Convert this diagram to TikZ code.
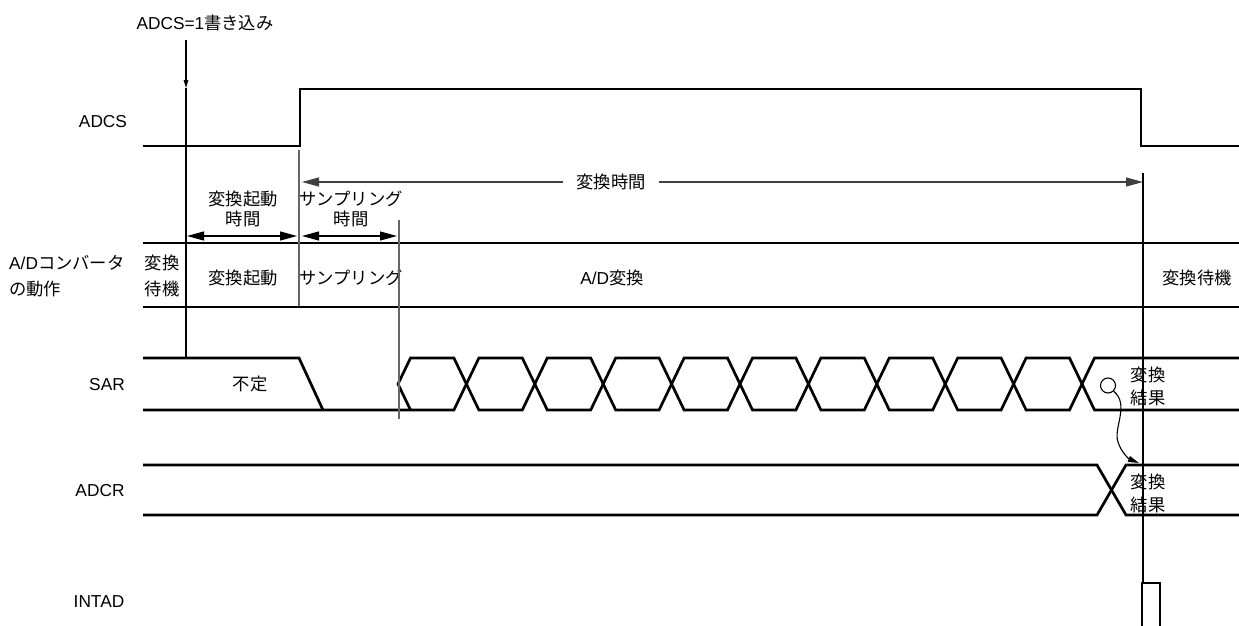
\documentclass[tikz,border=0pt]{standalone}
\usepackage{fontspec}
\setmainfont{Liberation Sans}
\newfontfamily\cjk{Noto Sans CJK JP}
\newcommand{\jtxt}[1]{{\cjk #1}}
\usetikzlibrary{arrows.meta}
\begin{document}
\begin{tikzpicture}[x=1pt,y=-1pt,
  sig/.style={line width=2.7pt, line join=miter, line cap=butt},
  thinline/.style={line width=1.1pt, draw=black},
  guide/.style={line width=1.2pt, draw=black!60},
  bigtip/.tip={Triangle[length=17pt,width=9pt]},
  lbl/.style={font=\fontsize{17.3}{20}\selectfont, inner sep=0pt, align=center},
]
\useasboundingbox (0,0) rectangle (1239,626);

% ---- signal labels ----
\node[lbl] (lwrite) at (205,23) {ADCS=1\jtxt{書き込み}};
\node[lbl] (ladcs) at (103,122) {ADCS};
\node[lbl, align=left, anchor=west, font=\fontsize{17.3}{26}\selectfont] (lconv) at (9,276) {A/D\jtxt{コンバータ}\\\jtxt{の動作}};
\node[lbl] (lsar) at (107,385) {SAR};
\node[lbl] (ladcr) at (100,491) {ADCR};
\node[lbl] (lintad) at (99,602) {INTAD};

% ---- ADCS waveform ----
\draw[sig] (143,146) -- (300,146) -- (300,89) -- (1141,89) -- (1141,146) -- (1239,146);

% ---- A/D converter operation row ----
\draw[sig] (143,243) -- (1239,243);
\draw[sig] (143,307) -- (1239,307);
\node[lbl, font=\fontsize{17.3}{26}\selectfont] (twait) at (162,276) {\jtxt{変換}\\\jtxt{待機}};
\node[lbl] (tstart) at (243,278) {\jtxt{変換起動}};
\node[lbl] (tsamp) at (351,278) {\jtxt{サンプリング}};
\node[lbl] (tad) at (612,278) {A/D\jtxt{変換}};
\node[lbl] (twait2) at (1197,278) {\jtxt{変換待機}};

% ---- SAR ----
\draw[sig] (143,358) -- (299,358) -- (323,410);
\draw[sig] (143,410) -- (410.5,410) -- (453.9,410) -- (478.9,358) -- (522.3,358) -- (547.3,410) -- (590.7,410) -- (615.7,358) -- (659.1,358) -- (684.1,410) -- (727.5,410) -- (752.5,358) -- (795.9,358) -- (820.9,410) -- (864.3,410) -- (889.3,358) -- (932.7,358) -- (957.7,410) -- (1001.1,410) -- (1026.1,358) -- (1069.5,358) -- (1094.5,410) -- (1239,410);
\draw[sig] (410.5,410) -- (398,384) -- (410.5,358) -- (453.9,358) -- (478.9,410) -- (522.3,410) -- (547.3,358) -- (590.7,358) -- (615.7,410) -- (659.1,410) -- (684.1,358) -- (727.5,358) -- (752.5,410) -- (795.9,410) -- (820.9,358) -- (864.3,358) -- (889.3,410) -- (932.7,410) -- (957.7,358) -- (1001.1,358) -- (1026.1,410) -- (1069.5,410) -- (1094.5,358) -- (1239,358);
\node[lbl] (tundef) at (250,384) {\jtxt{不定}};
\node[lbl, font=\fontsize{17.3}{23}\selectfont] (tres1) at (1148,386.5) {\jtxt{変換}\\\jtxt{結果}};

% ---- ADCR ----
\draw[sig] (143,465) -- (1097,465) -- (1126,515) -- (1239,515);
\draw[sig] (143,515) -- (1097,515) -- (1126,465) -- (1239,465);
\node[lbl, font=\fontsize{17.3}{23}\selectfont] (tres2) at (1148,493.5) {\jtxt{変換}\\\jtxt{結果}};

% ---- INTAD ----
\draw[sig] (1142,630) -- (1142,583) -- (1160,583) -- (1160,630);

% ---- vertical markers ----
\coordinate (wtop) at (186,40);
\coordinate (wtip) at (186,88);
\coordinate (wbot) at (186,358);
\draw[thinline, -{Triangle[length=8pt,width=4.5pt]}] (wtop) -- (wtip);
\draw[thinline] (wtip) -- (wbot);
\coordinate (g1t) at (299,150);
\coordinate (g1b) at (299,306);
\draw[guide] (g1t) -- (g1b);
\coordinate (g2t) at (399,220);
\coordinate (g2b) at (399,419);
\draw[guide] (g2t) -- (g2b);
\coordinate (g3t) at (1143,173);
\coordinate (g3b) at (1143,583);
\draw[thinline] (g3t) -- (g3b);

% ---- conversion time ----
\node[lbl] (tconv) at (611,182) {\jtxt{変換時間}};
\coordinate (cl) at (302,182);
\coordinate (cr) at (1143,182);
\draw[thinline, draw=black!75, -{bigtip}] ([xshift=-13pt]tconv.west) -- (cl);
\draw[thinline, draw=black!75, -{bigtip}] ([xshift=13pt]tconv.east) -- (cr);

% ---- start time / sampling time ----
\node[lbl] (tstartt) at (243,209) {\jtxt{変換起動}\\\jtxt{時間}};
\node[lbl] (tsampt) at (351,209) {\jtxt{サンプリング}\\\jtxt{時間}};
\coordinate (a1l) at (187,236);
\coordinate (a1r) at (297,236);
\coordinate (a2l) at (302,236);
\coordinate (a2r) at (397,236);
\draw[thinline, {bigtip}-{bigtip}] (a1l) -- (a1r);
\draw[thinline, {bigtip}-{bigtip}] (a2l) -- (a2r);

% ---- transfer SAR -> ADCR ----
\node[draw, circle, line width=1.1pt, minimum size=15pt, inner sep=0pt] (circ) at (1108,385.5) {};
\coordinate (adcrtop) at (1139,463);
\draw[thinline, -{Triangle[length=11pt,width=6pt]}] (circ.south east) .. controls (1130,405) and (1113,428) .. (1118,442) .. controls (1121,452) and (1129,459) .. (adcrtop);
\end{tikzpicture}
\end{document}
